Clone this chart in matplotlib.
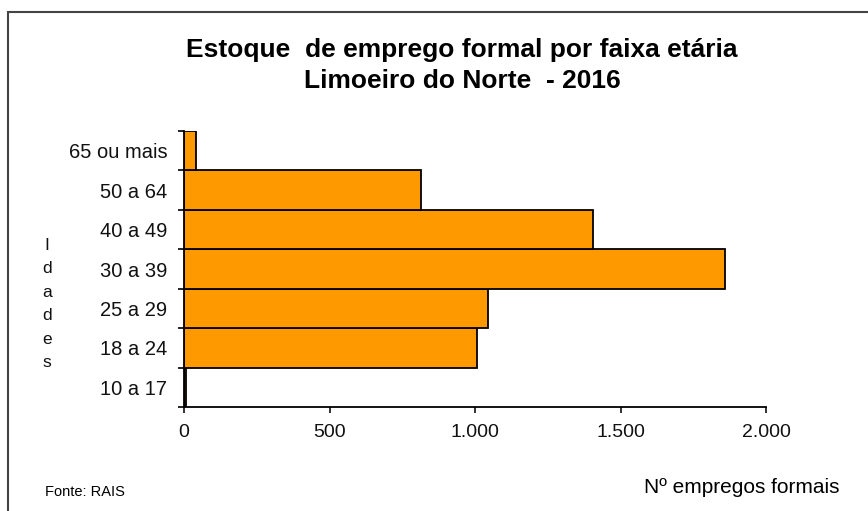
import matplotlib.pyplot as plt
from matplotlib.patches import Rectangle

# -----------------------------
# data
# -----------------------------
faixas = ["10 a 17", "18 a 24", "25 a 29", "30 a 39", "40 a 49", "50 a 64", "65 ou mais"]
empregos = [8, 1008, 1046, 1860, 1404, 815, 40]
xticks = [0, 500, 1000, 1500, 2000]
xtick_labels = ["0", "500", "1.000", "1.500", "2.000"]

plt.rcParams['font.family'] = ['Liberation Sans', 'DejaVu Sans']

# -----------------------------
# plot
# -----------------------------
fig = plt.figure(figsize=(8.68, 5.11), dpi=100)
ax = fig.add_axes([184/868, 1 - 407/511, (766 - 184)/868, (407 - 131)/511])

ypos = list(range(len(faixas)))
ax.barh(ypos, empregos, height=1.0, color="#FF9900", edgecolor="black", linewidth=1.3)

ax.set_xlim(0, 2000)
ax.set_ylim(-0.5, len(faixas) - 0.5)

ax.set_xticks(xticks)
ax.set_xticklabels(xtick_labels)
ax.set_yticks(ypos)
ax.set_yticklabels(faixas)
ax.set_yticks([y - 0.5 for y in range(len(faixas) + 1)], minor=True)

ax.tick_params(axis="x", length=4.5, width=1.2, pad=8, labelsize=14, colors="#111111")
ax.tick_params(axis="y", which="major", length=0, pad=12, labelsize=14.5, colors="#111111")
ax.tick_params(axis="y", which="minor", length=4.5, width=1.2)

for s in ["top", "right"]:
    ax.spines[s].set_visible(False)
for s in ["left", "bottom"]:
    ax.spines[s].set_linewidth(1.3)

# titles and notes
fig.text(462/868, 1 - 50/511, "Estoque  de emprego formal por faixa etária",
         ha="center", va="center", fontsize=19, fontweight="bold")
fig.text(462/868, 1 - 81/511, "Limoeiro do Norte  - 2016",
         ha="center", va="center", fontsize=19, fontweight="bold")
fig.text(47/868, 1 - 304/511, "I\nd\na\nd\ne\ns", ha="center", va="center",
         fontsize=12.5, linespacing=1.7, color="#111111")
fig.text(45/868, 1 - 492/511, "Fonte: RAIS", ha="left", va="center", fontsize=10.5)
fig.text(840/868, 1 - 487/511, "Nº empregos formais", ha="right", va="center", fontsize=15)

# frame
fig.patches.append(Rectangle((8/868, -0.05), 1.0, 1 - 12/511 + 0.05, transform=fig.transFigure,
                             fill=False, edgecolor="#444444", linewidth=1.5))

plt.savefig("out.png", dpi=100)
